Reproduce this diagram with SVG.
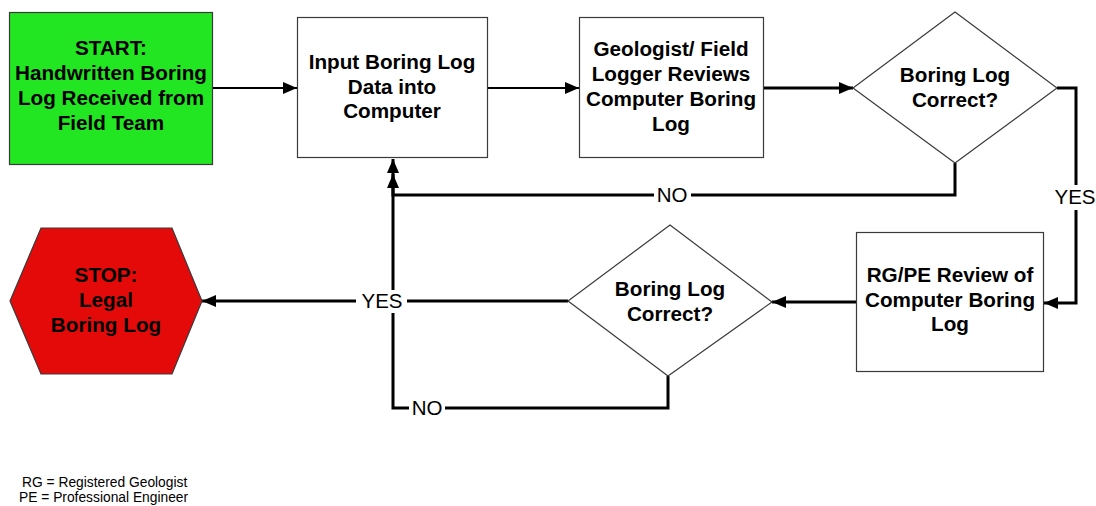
<svg xmlns="http://www.w3.org/2000/svg" width="1096" height="506" viewBox="0 0 1096 506">
  <style>
    .box { fill: #ffffff; stroke: #3a3a3a; stroke-width: 1.2; }
    .t { font-family: "Liberation Sans", Arial, sans-serif; font-size: 20.7px; font-weight: bold; fill: #000; text-anchor: middle; }
    .lbl { font-family: "Liberation Sans", Arial, sans-serif; font-size: 20.5px; fill: #000; text-anchor: middle; }
    .note { font-family: "Liberation Sans", Arial, sans-serif; font-size: 13.8px; fill: #000; }
    .c { fill: none; stroke: #000; stroke-width: 3; }
    .c2 { fill: none; stroke: #000; stroke-width: 2.2; }
  </style>
  <defs>
    <marker id="arrow" markerUnits="userSpaceOnUse" viewBox="0 0 14 12" markerWidth="14" markerHeight="12" refX="14" refY="6" orient="auto">
      <path d="M0,0 L14,6 L0,12 z" fill="#000"/>
    </marker>
  </defs>
  <rect width="1096" height="506" fill="#ffffff"/>

  <g id="connectors">
    <line class="c2" x1="213" y1="88" x2="297" y2="88" marker-end="url(#arrow)"/>
    <line class="c2" x1="488" y1="88" x2="579" y2="88" marker-end="url(#arrow)"/>
    <line class="c" x1="764" y1="88" x2="853" y2="88" marker-end="url(#arrow)"/>
    <polyline class="c" points="1057,88 1076,88 1076,185"/>
    <polyline class="c" points="1076,210 1076,303 1044,303" marker-end="url(#arrow)"/>
    <line class="c" x1="856" y1="302" x2="772" y2="302" marker-end="url(#arrow)"/>
    <line class="c" x1="568" y1="301" x2="407" y2="301"/>
    <line class="c" x1="356" y1="301" x2="202" y2="301" marker-end="url(#arrow)"/>
    <polyline class="c" points="668,376 668,408 445,408"/>
    <polyline class="c" points="409,408 393,408 393,313"/>
    <line class="c" x1="393" y1="290" x2="393" y2="159" marker-end="url(#arrow)"/>
    <polyline class="c" points="955,163 955,195 691,195"/>
    <polyline class="c" points="654,195 393,195 393,174" marker-end="url(#arrow)"/>
    <text class="lbl" x="1075" y="204">YES</text>
    <text class="lbl" x="672" y="202">NO</text>
    <text class="lbl" x="382" y="308">YES</text>
    <text class="lbl" x="427" y="415">NO</text>
  </g>

  <g id="start">
    <rect x="9.5" y="12.5" width="203" height="152" fill="#22e622" stroke="#3a3a3a" stroke-width="1.2"/>
    <text class="t" x="111" y="55">START:</text>
    <text class="t" x="111" y="80">Handwritten Boring</text>
    <text class="t" x="111" y="105">Log Received from</text>
    <text class="t" x="111" y="130">Field Team</text>
  </g>

  <g id="input">
    <rect class="box" x="297.5" y="17.5" width="190" height="140"/>
    <text class="t" x="392" y="69">Input Boring Log</text>
    <text class="t" x="392" y="93.5">Data into</text>
    <text class="t" x="392" y="118">Computer</text>
  </g>

  <g id="review">
    <rect class="box" x="579.5" y="17.5" width="184" height="140"/>
    <text class="t" x="671" y="55.5">Geologist/ Field</text>
    <text class="t" x="671" y="80.5">Logger Reviews</text>
    <text class="t" x="671" y="105.5">Computer Boring</text>
    <text class="t" x="671" y="130.5">Log</text>
  </g>

  <g id="decision1">
    <polygon class="box" points="955,12 1057,88 955,163 853,88"/>
    <text class="t" x="955" y="82">Boring Log</text>
    <text class="t" x="955" y="107">Correct?</text>
  </g>

  <g id="rgpe">
    <rect class="box" x="856.5" y="232.5" width="187" height="139"/>
    <text class="t" x="950" y="282">RG/PE Review of</text>
    <text class="t" x="950" y="306.5">Computer Boring</text>
    <text class="t" x="950" y="331">Log</text>
  </g>

  <g id="decision2">
    <polygon class="box" points="670,225 772,302 668,376 568,301"/>
    <text class="t" x="670" y="296">Boring Log</text>
    <text class="t" x="670" y="321">Correct?</text>
  </g>

  <g id="stop">
    <polygon points="41,228 172,228 202,301 172,374 41,374 10,301" fill="#e40a0a" stroke="#3a3a3a" stroke-width="1.2"/>
    <text class="t" x="106" y="282">STOP:</text>
    <text class="t" x="106" y="307">Legal</text>
    <text class="t" x="106" y="332">Boring Log</text>
  </g>

  <g id="legend">
    <text class="note" x="22" y="487">RG = Registered Geologist</text>
    <text class="note" x="19" y="502">PE = Professional Engineer</text>
  </g>
</svg>
